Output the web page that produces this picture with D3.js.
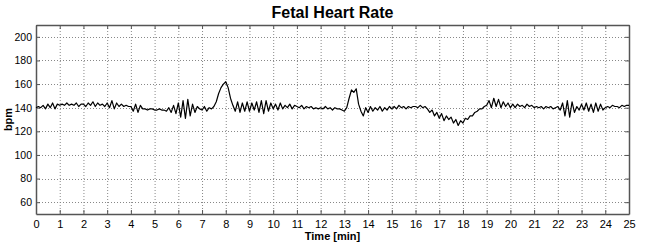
<!DOCTYPE html>
<html>
<head>
<meta charset="utf-8">
<script src="https://cdn.jsdelivr.net/npm/d3@7"></script>
<style>
  body { margin: 0; background: #fff; }
  text { font-family: 'Liberation Sans', Arial, sans-serif; }
  .grid line { stroke: #888; stroke-width: 1; stroke-dasharray: 1,2; }
</style>
</head>
<body>
<div id="chart"></div>
<script>
const WIDTH = 647
const HEIGHT = 246

// fhr samples, one every 0.1 min
const STEP_MIN = 0.1
const fhr = [
  140,141,140,142,139,143,140,144,139,143,
  142,143,142,144,142,143,142,144,141,143,
  143,141,144,142,145,141,144,142,143,141,
  144,140,146,139,144,141,143,141,142,141,
  141,137,143,136,142,139,139,138,139,139,
  138,138,139,138,138,137,140,136,142,135,
  144,132,146,131,147,133,143,136,141,139,
  138,141,137,140,139,141,145,152,157,160,
  162,157,148,142,137,145,136,144,137,145,
  137,144,138,145,136,146,135,146,137,144,
  139,143,138,144,139,142,140,143,139,142,
  141,140,142,139,141,140,141,139,140,139,
  140,139,141,139,140,138,140,139,139,138,
  137,140,148,155,153,156,143,137,133,140,
  136,141,137,140,138,141,137,140,138,141,
  139,141,139,142,140,141,139,141,140,141,
  141,140,142,140,141,139,136,138,133,136,
  131,135,129,133,130,132,127,130,125,129,
  127,131,130,133,133,136,137,139,139,141,
  142,146,140,148,141,147,140,145,141,144,
  140,143,140,143,141,142,140,143,141,142,
  140,141,140,141,139,141,140,141,139,140,
  141,138,144,133,146,132,145,136,141,138,
  143,138,144,137,143,136,144,137,143,138,
  140,141,140,142,141,141,140,142,141,142,
  142
]

const xTicks = d3.range(0, 26, 1)
const yTicks = [60, 80, 100, 120, 140, 160, 180, 200]

const margin = { top: 25, right: 18, bottom: 32, left: 36 }
const innerW = WIDTH - margin.left - margin.right
const innerH = HEIGHT - margin.top - margin.bottom

const svg = d3.select('#chart')
  .append('svg')
  .attr('width', WIDTH)
  .attr('height', HEIGHT)

const x = d3.scaleLinear().domain([0, 25]).range([0, innerW])
const y = d3.scaleLinear().domain([50, 210]).range([innerH, 0])

const g = svg.append('g')
  .attr('transform', `translate(${margin.left},${margin.top})`)

// dotted grid
g.append('g').attr('class', 'grid')
  .selectAll('line.v')
  .data(xTicks.slice(1, -1))
  .enter()
  .append('line')
  .attr('x1', d => x(d) + 0.5).attr('x2', d => x(d) + 0.5)
  .attr('y1', 0).attr('y2', innerH)
g.select('.grid')
  .selectAll('line.h')
  .data(yTicks)
  .enter()
  .append('line')
  .attr('y1', d => Math.round(y(d)) + 0.5).attr('y2', d => Math.round(y(d)) + 0.5)
  .attr('x1', 0).attr('x2', innerW)

// axes, ticks pointing inward like matlab
const xAxis = g.append('g')
  .attr('transform', `translate(0,${innerH})`)
  .call(d3.axisBottom(x).tickValues(xTicks).tickSizeInner(-4).tickSizeOuter(0).tickPadding(6))
const xTop = g.append('g')
  .call(d3.axisTop(x).tickValues(xTicks).tickSizeInner(-4).tickSizeOuter(0).tickFormat(''))
const yAxis = g.append('g')
  .call(d3.axisLeft(y).tickValues(yTicks).tickSizeInner(-4).tickSizeOuter(0).tickPadding(4))
const yRight = g.append('g')
  .attr('transform', `translate(${innerW},0)`)
  .call(d3.axisRight(y).tickValues(yTicks).tickSizeInner(-4).tickSizeOuter(0).tickFormat(''))

;[xAxis, xTop, yAxis, yRight].forEach(a => {
  a.select('.domain').attr('stroke', '#555').attr('stroke-width', 1.5)
  a.selectAll('.tick line').attr('stroke', '#555')
  a.selectAll('text').attr('fill', '#000').style('font-size', '11px')
    .style('font-family', "'Liberation Sans', Arial, sans-serif")
})
yAxis.selectAll('text').style('font-size', '10.5px')

// trace
const line = d3.line()
  .x((d, i) => x(i * STEP_MIN))
  .y(d => y(d))

g.append('path')
  .datum(fhr)
  .attr('d', line)
  .attr('fill', 'none')
  .attr('stroke', '#000')
  .attr('stroke-width', 1.2)
  .attr('stroke-linejoin', 'round')

// labels
svg.append('text')
  .attr('x', margin.left + innerW / 2)
  .attr('y', 18)
  .attr('text-anchor', 'middle')
  .style('font-size', '16px')
  .style('font-weight', 'bold')
  .text('Fetal Heart Rate')

svg.append('text')
  .attr('x', margin.left + innerW / 2)
  .attr('y', 240)
  .attr('text-anchor', 'middle')
  .style('font-size', '11px')
  .style('font-weight', 'bold')
  .text('Time [min]')

svg.append('text')
  .attr('transform', `translate(12,${margin.top + innerH / 2}) rotate(-90)`)
  .attr('text-anchor', 'middle')
  .style('font-size', '11px')
  .style('font-weight', 'bold')
  .text('bpm')
</script>
</body>
</html>
